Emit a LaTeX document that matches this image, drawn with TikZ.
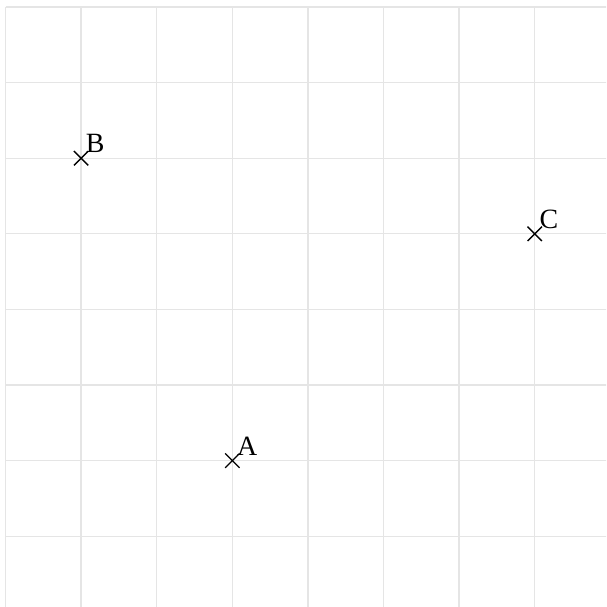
\documentclass[tikz,border=0pt]{standalone}
\usepackage{fontspec}
\setmainfont{Liberation Serif}
\begin{document}
\begin{tikzpicture}[x=1cm,y=1cm,
  gridline/.style={draw=black!10, line width=0.5pt},
  xmark/.style={draw=black, line width=0.5pt},
  ptlabel/.style={anchor=south west, inner xsep=1.6pt, inner ysep=1.8pt, font=\fontsize{10.5}{12}\selectfont}]
\useasboundingbox (-0.073,0.064) rectangle (7.943,8.093);
\begin{scope}
\clip (-0.073,0.064) rectangle (7.943,8.093);
\draw[gridline] (0,0) grid (8,8);
\end{scope}
\coordinate (A) at (3,2);
\coordinate (B) at (1,6);
\coordinate (C) at (7,5);
\foreach \p in {A,B,C}{
  \draw[xmark] ([shift={(-0.095,-0.095)}]\p) -- ([shift={(0.095,0.095)}]\p);
  \draw[xmark] ([shift={(-0.095,0.095)}]\p) -- ([shift={(0.095,-0.095)}]\p);
  \node[ptlabel] (l\p) at (\p) {\p};
}
\end{tikzpicture}
\end{document}
